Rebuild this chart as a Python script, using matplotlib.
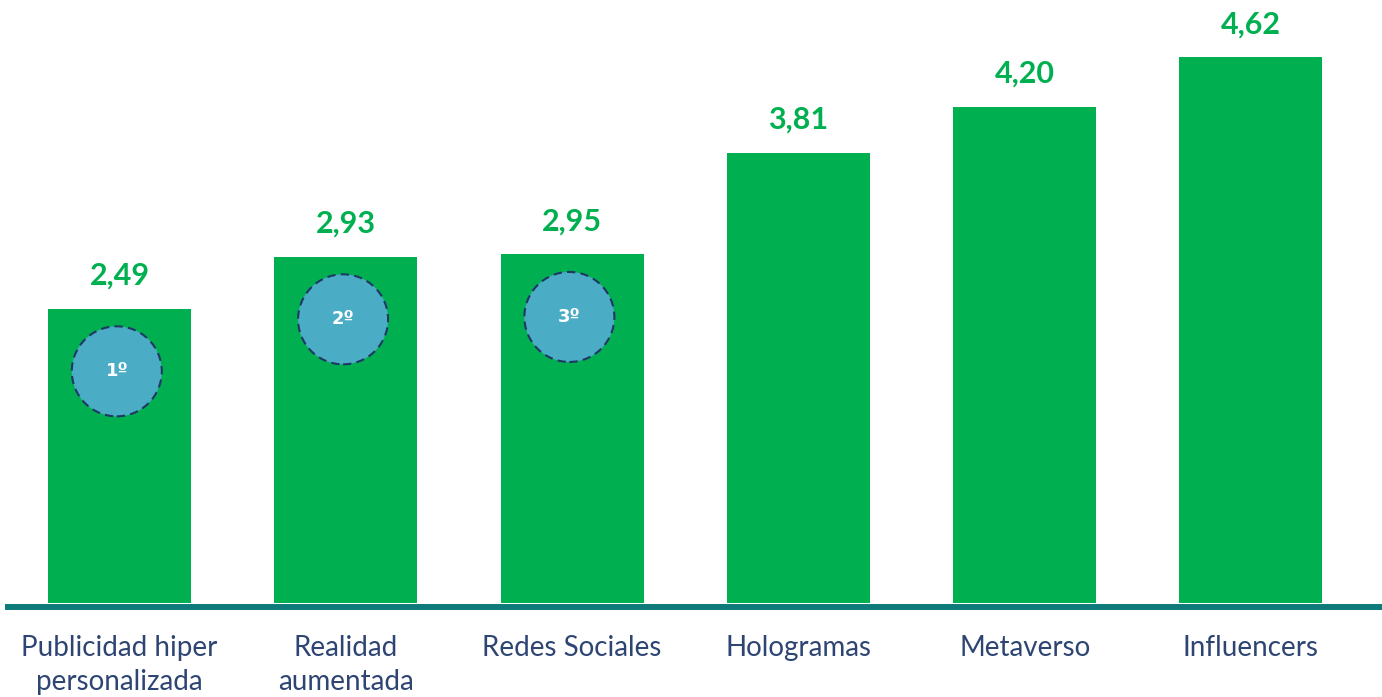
import matplotlib
matplotlib.use("Agg")
import matplotlib.pyplot as plt

categories = ["Publicidad hiper\npersonalizada", "Realidad\naumentada", "Redes Sociales",
              "Hologramas", "Metaverso", "Influencers"]
values = [2.49, 2.93, 2.95, 3.81, 4.20, 4.62]
value_labels = ["2,49", "2,93", "2,95", "3,81", "4,20", "4,62"]
ranks = ["1º", "2º", "3º"]

W, H = 1382, 697
fig = plt.figure(figsize=(W / 100, H / 100), dpi=100)
ax = fig.add_axes([8 / W, (H - 603) / H, (W - 8) / W, 603 / H])

green = "#00B050"
x = list(range(len(values)))
ax.bar(x, values, width=0.632, color=green, zorder=2)
ax.set_xlim(-0.4927, 5.579)
ax.set_ylim(0, 603 / 118.2)

for xi, v, lab in zip(x, values, value_labels):
    ax.annotate(lab, (xi, v), xytext=(0, 17), textcoords="offset points",
                ha="center", va="baseline", color=green, fontsize=22,
                fontweight="bold", family="Lato")

rank_x = [xi - 0.012 for xi in x[:len(ranks)]]
rank_y = [v - 0.53 for v in values[:len(ranks)]]
ax.scatter(rank_x, rank_y, s=64.8 ** 2, color="#4BACC6", edgecolors="#1F3864",
           linewidths=1.5, linestyle=(0, (4, 2.5)), zorder=3)
for rx, ry, r in zip(rank_x, rank_y, ranks):
    ax.text(rx, ry, r, ha="center", va="center", color="white", fontsize=13,
            fontweight="bold", family="DejaVu Sans", zorder=4)

for s in ["top", "left", "right"]:
    ax.spines[s].set_visible(False)
ax.spines["bottom"].set_color("#0E7A7A")
ax.spines["bottom"].set_linewidth(4.3)
ax.spines["bottom"].set_position(("outward", 2.9))
ax.set_yticks([])
ax.set_xticks(x)
ax.set_xticklabels(categories, fontsize=20, color="#2E4573", family="Lato",
                   linespacing=1.38)
ax.tick_params(axis="x", length=0, pad=20)

fig.savefig("out.png", dpi=100)
